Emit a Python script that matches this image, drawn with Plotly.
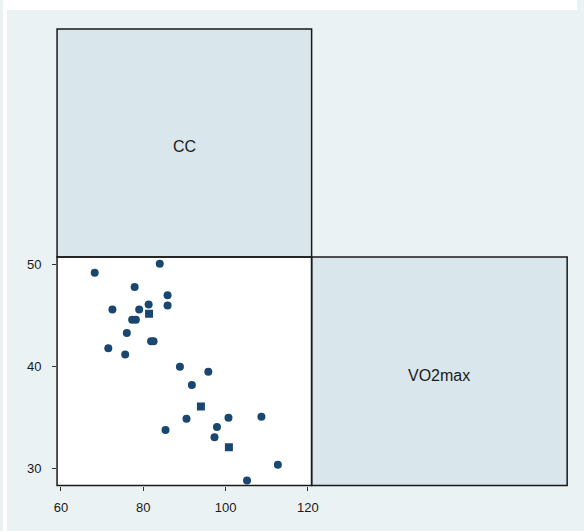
import plotly.graph_objects as go

# Data (x = CC, y = VO2max)
cc = [68.2, 84.0, 77.9, 85.9, 81.3, 85.9, 72.5, 79.0, 81.4, 77.3, 78.2, 76.0,
      81.9, 82.5, 71.5, 75.6, 88.9, 95.8, 91.8, 94.0, 90.5, 100.7, 108.7, 85.4,
      97.9, 97.3, 100.8, 112.7, 105.2]
vo2max = [49.2, 50.1, 47.8, 47.0, 46.1, 46.0, 45.6, 45.6, 45.2, 44.6, 44.6, 43.3,
          42.5, 42.5, 41.8, 41.2, 40.0, 39.5, 38.2, 36.1, 34.9, 35.0, 35.1, 33.8,
          34.1, 33.1, 32.1, 30.4, 28.85]
var_labels = ["CC", "VO2max"]
x_ticks = [60, 80, 100, 120]
y_ticks = [30, 40, 50]

W, H = 584, 531
def px(x):
    return x / W
def py(y):
    return 1 - y / H

L, M, R = 55, 314, 574
T, MID, B = 29, 257, 485.5

navy = "#1a476f"
cell_fill = "#d9e6eb"
panel = "#eaf2f3"

symbols = ["circle"] * len(cc)
for i in (8, 19, 26):
    symbols[i] = "square"

fig = go.Figure()
fig.add_trace(go.Scatter(
    x=cc, y=vo2max, mode="markers",
    marker=dict(color=navy, size=8, symbol=symbols, line=dict(width=0)),
    showlegend=False, hoverinfo="x+y"))

shapes = [
    dict(type="rect", xref="paper", yref="paper", x0=0, x1=1, y0=py(10), y1=1,
         fillcolor="white", line=dict(width=0), layer="below"),
    dict(type="rect", xref="paper", yref="paper", x0=0, x1=px(4), y0=0, y1=1,
         fillcolor="white", line=dict(width=0), layer="below"),
    dict(type="rect", xref="paper", yref="paper", x0=px(L), x1=px(M), y0=py(MID), y1=py(T),
         fillcolor=cell_fill, line=dict(color="#1a1a1a", width=1.5)),
    dict(type="rect", xref="paper", yref="paper", x0=px(M), x1=px(R), y0=py(B), y1=py(MID),
         fillcolor=cell_fill, line=dict(color="#1a1a1a", width=1.5)),
    dict(type="rect", xref="paper", yref="paper", x0=px(L), x1=px(M), y0=py(B), y1=py(MID),
         fillcolor="rgba(0,0,0,0)", line=dict(color="#1a1a1a", width=1.5)),
]

annotations = [
    dict(text=var_labels[0], xref="paper", yref="paper", x=px((L + M) / 2), y=py(146),
         xanchor="center", yanchor="middle", showarrow=False,
         font=dict(family="Liberation Sans, Arial", size=16, color="#1a1a1a")),
    dict(text=var_labels[1], xref="paper", yref="paper", x=px((M + R) / 2), y=py(375),
         xanchor="center", yanchor="middle", showarrow=False,
         font=dict(family="Liberation Sans, Arial", size=16, color="#1a1a1a")),
]

fig.update_layout(
    width=W, height=H, margin=dict(l=0, r=0, t=0, b=0),
    paper_bgcolor=panel, plot_bgcolor="white",
    shapes=shapes, annotations=annotations,
    font=dict(family="Liberation Sans, Arial", size=13, color="#1a1a1a"),
    xaxis=dict(domain=[px(L), px(M)], range=[59.05, 120.9], tickvals=x_ticks,
               ticks="outside", ticklen=4, tickcolor="#333", showgrid=False,
               zeroline=False, showline=False, ticklabelstandoff=6),
    yaxis=dict(domain=[py(B), py(MID)], range=[28.36, 50.75], tickvals=y_ticks,
               ticks="outside", ticklen=4, tickcolor="#333", showgrid=False,
               zeroline=False, showline=False, ticklabelstandoff=8),
)

fig.write_html("out.html", config={"displayModeBar": False},
               post_script="document.body.style.margin='0';document.body.style.padding='0';"
                           "document.body.style.overflow='hidden';")
